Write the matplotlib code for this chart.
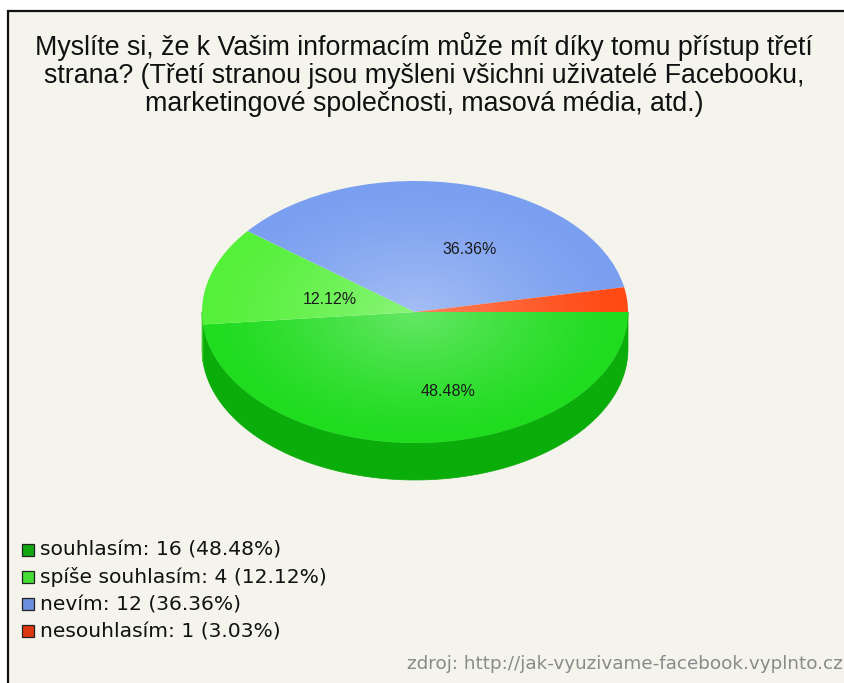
import matplotlib.pyplot as plt
import numpy as np
from matplotlib.patches import Polygon, Rectangle, Ellipse

labels = ["souhlasím", "spíše souhlasím", "nevím", "nesouhlasím"]
counts = [16, 4, 12, 1]
top_colors = ["#1fdc1f", "#55f03a", "#7a9ff0", "#ff4a14"]
side_colors = ["#0aad0a", "#3cc82a", "#5a7fd0", "#d83a10"]
legend_colors = ["#12a812", "#44dd33", "#6b8fdf", "#dd3812"]

title_lines = ["Myslíte si, že k Vašim informacím může mít díky tomu přístup třetí",
               "strana? (Třetí stranou jsou myšleni všichni uživatelé Facebooku,",
               "marketingové společnosti, masová média, atd.)"]
source = "zdroj: http://jak-vyuzivame-facebook.vyplnto.cz"

W, H = 845, 683
bg = "#f4f3ec"
fig = plt.figure(figsize=(W / 100, H / 100), dpi=100)
fig.patch.set_facecolor("white")

# frame of the chart (pixel coords)
base = fig.add_axes([0, 0, 1, 1])
base.set_xlim(0, W)
base.set_ylim(H, 0)
base.axis("off")
base.add_patch(Rectangle((8, 11), W, H, facecolor=bg, edgecolor="#111111", lw=1.6))

for i, line in enumerate(title_lines):
    base.text(424, 55 + i * 28, line, ha="center", va="baseline", fontsize=19.3,
              family="Liberation Sans", color="#111111")

# pie axes: x range -1..1 maps to the ellipse width, y scaled flat
cx, cy, rx, ry, depth = 415, 312, 213, 131, 37
ax = fig.add_axes([(cx - rx) / W, 1 - (cy + ry) / H, 2 * rx / W, 2 * ry / H])
total = sum(counts)
fracs = np.array(counts) / total
d = depth / ry

# side of the 3D pie
start = 0.0
for frac, col in zip(fracs, side_colors):
    a0, a1 = start, start - frac * 360
    start = a1
    lo, hi = max(a1, -180), min(a0, 0)
    if lo >= hi:
        continue
    t = np.radians(np.linspace(hi, lo, 80))
    pts = np.vstack([np.c_[np.cos(t), np.sin(t)], np.c_[np.cos(t[::-1]), np.sin(t[::-1]) - d]])
    ax.add_patch(Polygon(pts, closed=True, facecolor=col, edgecolor=col, lw=0.5, zorder=1))

wedges, texts = ax.pie(fracs, colors=top_colors, startangle=0, counterclock=False,
                       radius=1, wedgeprops=dict(lw=0))
for w in wedges:
    w.set_zorder(2)

# soft highlight towards the middle of the top face
xx, yy = np.meshgrid(np.linspace(-1, 1, 300), np.linspace(-1, 1, 300))
rr = np.sqrt(xx ** 2 + yy ** 2)
glow = np.zeros((300, 300, 4))
glow[..., :3] = 1.0
glow[..., 3] = np.clip(0.32 * (1 - rr) ** 1.3, 0, 1) * (rr < 1)
im = ax.imshow(glow, extent=[-1, 1, -1, 1], zorder=3, interpolation="bilinear")
im.set_clip_path(Ellipse((0, 0), 2, 2, transform=ax.transData))

# percentage labels, anchored top-left at the slice mid angle
start = 0.0
for frac in fracs:
    mid = np.radians(start - frac * 180)
    start -= frac * 360
    if frac < 0.05:
        continue
    ax.text(0.55 * np.cos(mid), 0.55 * np.sin(mid), f"{frac * 100:.2f}%", ha="left", va="top",
            fontsize=11.5, family="Liberation Sans", color="#1a1a1a", zorder=4)

ax.set_aspect("auto")
ax.set_xlim(-1, 1)
ax.set_ylim(-1, 1)
ax.axis("off")
for p in ax.patches:
    p.set_clip_on(False)

# legend
for i, (lab, c, col) in enumerate(zip(labels, counts, legend_colors)):
    y = 550 + i * 27.3
    base.add_patch(Rectangle((22, y - 6.5), 12, 12, facecolor=col, edgecolor="#222222", lw=0.9))
    base.text(40, y, f"{lab}: {c} ({c / total * 100:.2f}%)", ha="left", va="center",
              fontsize=14.6, family="DejaVu Sans", color="#111111")

base.text(843, 664, source, ha="right", va="center", fontsize=13.2,
          family="DejaVu Sans", color="#8a8a8a")

fig.savefig("out.png", dpi=100, facecolor=fig.get_facecolor())
